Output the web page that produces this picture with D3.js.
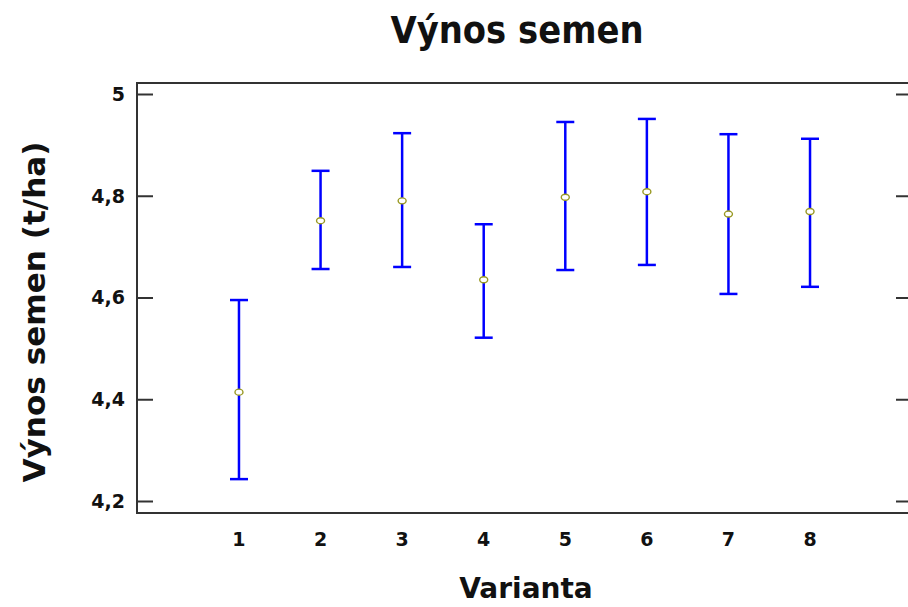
<!DOCTYPE html>
<html>
<head>
<meta charset="utf-8">
<style>
  body { margin: 0; background: #fff; }
  text { font-family: "DejaVu Sans", Verdana, sans-serif; font-weight: bold; fill: #111; }
</style>
</head>
<body>
<svg width="908" height="607"></svg>
<script src="https://cdn.jsdelivr.net/npm/d3@7"></script>
<script>
// data
var variants = [1, 2, 3, 4, 5, 6, 7, 8];
var means = [4.414, 4.751, 4.790, 4.635, 4.797, 4.808, 4.764, 4.769];
var lower = [4.243, 4.656, 4.660, 4.521, 4.654, 4.664, 4.607, 4.621];
var upper = [4.595, 4.849, 4.923, 4.744, 4.945, 4.951, 4.921, 4.912];
var yTicks = [4.2, 4.4, 4.6, 4.8, 5];

var svg = d3.select("svg");

// plot box (right side runs just past the edge of the picture)
var pLeft = 137, pRight = 912, pTop = 83, pBottom = 513;

var x = d3.scaleLinear().domain([-0.25, 9.25]).range([pLeft, pRight]);
var y = d3.scaleLinear().domain([4.2, 5]).range([501, 94]);

var fmt = function(d) { return d === 5 ? "5" : d3.format(".1f")(d).replace(".", ","); };

// frame
svg.append("rect")
    .attr("x", pLeft).attr("y", pTop)
    .attr("width", pRight - pLeft).attr("height", pBottom - pTop)
    .attr("fill", "none").attr("stroke", "#333").attr("stroke-width", 2);

// left axis, ticks pointing inward
var yAxis = svg.append("g")
    .attr("transform", "translate(" + pLeft + ",0)")
    .call(d3.axisRight(y).tickValues(yTicks).tickSize(16).tickFormat(""));
yAxis.select(".domain").remove();
yAxis.selectAll("line").attr("stroke", "#333").attr("stroke-width", 2);

// right axis, ticks inward
var yAxisR = svg.append("g")
    .attr("transform", "translate(" + pRight + ",0)")
    .call(d3.axisLeft(y).tickValues(yTicks).tickSize(16).tickFormat(""));
yAxisR.select(".domain").remove();
yAxisR.selectAll("line").attr("stroke", "#333").attr("stroke-width", 2);

// y tick labels
svg.append("g").selectAll("text")
    .data(yTicks)
  .enter().append("text")
    .attr("x", 125)
    .attr("y", function(d) { return y(d); })
    .attr("dy", "0.36em")
    .attr("text-anchor", "end")
    .style("font-size", "19px")
    .text(fmt);

// x tick labels
svg.append("g").selectAll("text")
    .data(variants)
  .enter().append("text")
    .attr("x", function(d) { return x(d); })
    .attr("y", 546)
    .attr("text-anchor", "middle")
    .style("font-size", "19px")
    .text(function(d) { return d; });

// error bars
var bars = svg.append("g").selectAll("g")
    .data(variants)
  .enter().append("g")
    .attr("stroke", "#0000ff")
    .attr("stroke-width", 2.5);

bars.append("line")
    .attr("x1", function(d) { return x(d); })
    .attr("x2", function(d) { return x(d); })
    .attr("y1", function(d, i) { return y(lower[i]); })
    .attr("y2", function(d, i) { return y(upper[i]); });

bars.append("line")
    .attr("x1", function(d) { return x(d) - 9; })
    .attr("x2", function(d) { return x(d) + 9; })
    .attr("y1", function(d, i) { return y(upper[i]); })
    .attr("y2", function(d, i) { return y(upper[i]); });

bars.append("line")
    .attr("x1", function(d) { return x(d) - 9; })
    .attr("x2", function(d) { return x(d) + 9; })
    .attr("y1", function(d, i) { return y(lower[i]); })
    .attr("y2", function(d, i) { return y(lower[i]); });

// mean markers
svg.append("g").selectAll("ellipse")
    .data(variants)
  .enter().append("ellipse")
    .attr("cx", function(d) { return x(d); })
    .attr("cy", function(d, i) { return y(means[i]); })
    .attr("rx", 4).attr("ry", 3)
    .attr("fill", "#fff")
    .attr("stroke", "#999922")
    .attr("stroke-width", 1.4);

// titles
svg.append("text")
    .attr("x", 517).attr("y", 43)
    .attr("text-anchor", "middle")
    .attr("textLength", 253).attr("lengthAdjust", "spacingAndGlyphs")
    .style("font-size", "38px")
    .text("Výnos semen");

svg.append("text")
    .attr("x", 526).attr("y", 598)
    .attr("text-anchor", "middle")
    .style("font-size", "28px")
    .text("Varianta");

svg.append("text")
    .attr("transform", "translate(45,312) rotate(-90)")
    .attr("text-anchor", "middle")
    .attr("textLength", 341).attr("lengthAdjust", "spacingAndGlyphs")
    .style("font-size", "31px")
    .text("Výnos semen (t/ha)");
</script>
</body>
</html>
